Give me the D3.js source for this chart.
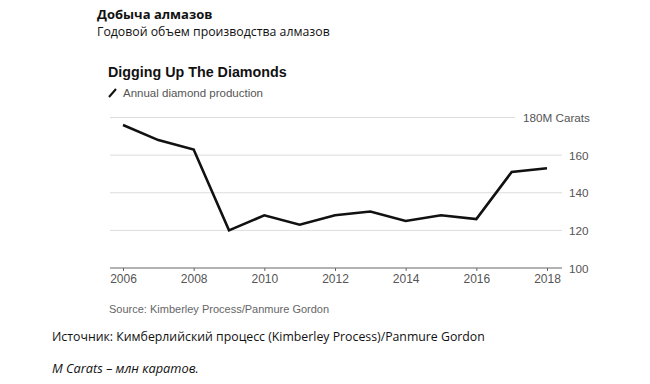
<!DOCTYPE html>
<html><head><meta charset="utf-8">
<script src="https://cdn.jsdelivr.net/npm/d3@7"></script>
<style>body{margin:0;background:#fff}svg{display:block}</style>
</head><body><svg id="c" width="650" height="384"></svg>
<script>
const years = [2006,2007,2008,2009,2010,2011,2012,2013,2014,2015,2016,2017,2018];
const production = [176,168,163,120,128,123,128,130,125,128,126,151,153];
const xTicks = [2006,2008,2010,2012,2014,2016,2018];
const yTicks = [100,120,140,160,180];

const svg = d3.select("#c");
const x = d3.scaleLinear().domain([2006,2018]).range([123,547]);
const y = d3.scaleLinear().domain([100,180]).range([268,117.5]);
const sans = "'Liberation Sans', Arial, sans-serif";
const ru = "'Open Sans', 'Noto Sans', sans-serif";

// header texts
svg.append("text").attr("x",97).attr("y",19).attr("font-family",ru).attr("font-weight","bold").attr("font-size",13).attr("fill","#111").text("Добыча алмазов");
svg.append("text").attr("x",97).attr("y",36).attr("font-family",ru).attr("font-size",12.3).attr("fill","#111").text("Годовой объем производства алмазов");
svg.append("text").attr("x",108).attr("y",77).attr("font-family",sans).attr("font-weight","bold").attr("font-size",14.3).attr("fill","#111").text("Digging Up The Diamonds");
svg.append("line").attr("x1",109).attr("y1",97).attr("x2",116).attr("y2",89).attr("stroke","#111").attr("stroke-width",2);
svg.append("text").attr("x",123).attr("y",97).attr("font-family",sans).attr("font-size",11.5).attr("fill","#555").text("Annual diamond production");

// grid
const g = svg.append("g");
yTicks.filter(d=>d>100).forEach(d=>{
  g.append("line").attr("x1",110).attr("x2",d===180?515:562).attr("y1",y(d)).attr("y2",y(d)).attr("stroke","#ddd").attr("stroke-width",1);
});
yTicks.forEach(d=>{
  g.append("text").attr("x",d===180?523:569).attr("y",y(d)+4.5).attr("font-family",sans).attr("font-size",11.7).attr("fill","#555").text(d===180?"180M Carats":d);
});

// x axis
const xAxis = d3.axisBottom(x).tickValues(xTicks).tickFormat(d3.format("d")).tickSize(3).tickSizeOuter(0);
const ax = svg.append("g").attr("transform",`translate(0,${y(100)})`).call(xAxis);
ax.select(".domain").remove();
ax.append("line").attr("x1",110).attr("x2",562).attr("stroke","#666").attr("stroke-width",1);
ax.selectAll(".tick line").attr("stroke","#666");
ax.selectAll(".tick text").attr("font-family",sans).attr("font-size",12).attr("fill","#555").attr("dy","0.85em").attr("y",5);

// line
const line = d3.line().x((d,i)=>x(years[i])).y(d=>y(d));
svg.append("path").datum(production).attr("d",line).attr("fill","none").attr("stroke","#111").attr("stroke-width",2.6).attr("stroke-linejoin","miter");

// footer
svg.append("text").attr("x",109).attr("y",313).attr("font-family",sans).attr("font-size",11).attr("fill","#666").text("Source: Kimberley Process/Panmure Gordon");
svg.append("text").attr("x",52).attr("y",341).attr("font-family",ru).attr("font-size",12.3).attr("fill","#111").text("Источник: Кимберлийский процесс (Kimberley Process)/Panmure Gordon");
svg.append("text").attr("x",52).attr("y",373).attr("font-family",ru).attr("font-style","italic").attr("font-size",12.8).attr("fill","#111").text("M Carats – млн каратов.");
</script></body></html>
